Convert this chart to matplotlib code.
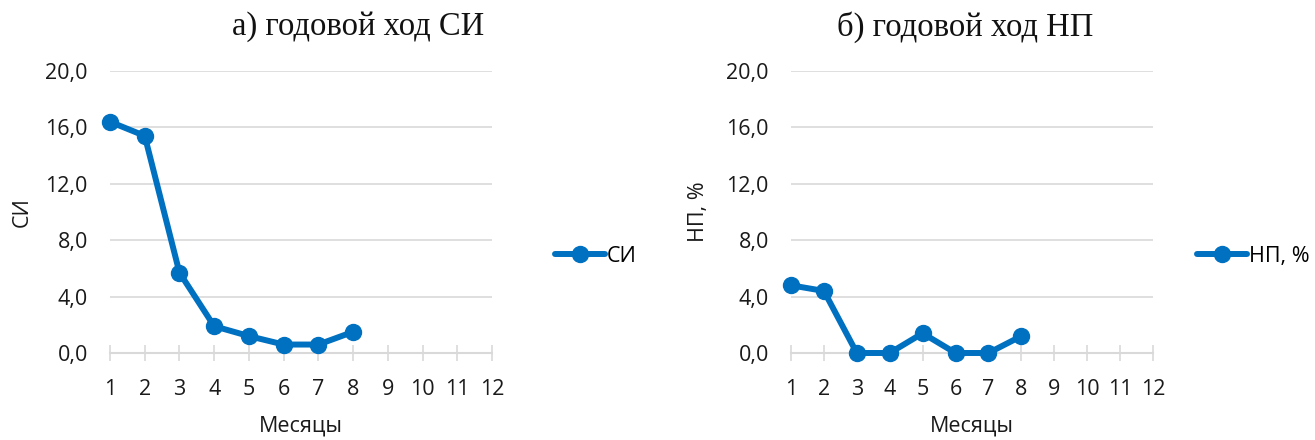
import matplotlib
matplotlib.use("Agg")
import matplotlib.pyplot as plt

months = list(range(1, 13))
si_months = [1, 2, 3, 4, 5, 6, 7, 8]
si_values = [16.4, 15.4, 5.7, 1.9, 1.2, 0.6, 0.6, 1.5]
np_months = [1, 2, 3, 4, 5, 6, 7, 8]
np_values = [4.8, 4.4, 0.0, 0.0, 1.4, 0.0, 0.0, 1.2]
y_ticks = [0, 4, 8, 12, 16, 20]
y_ticklabels = ["0,0", "4,0", "8,0", "12,0", "16,0", "20,0"]

titles = ["а) годовой ход СИ", "б) годовой ход НП"]
ylabels = ["СИ", "НП, %"]
legend_labels = ["СИ", "НП, %"]
xlabel = "Месяцы"

SANS = ["Open Sans", "DejaVu Sans"]
SERIF = ["Liberation Serif", "DejaVu Serif"]
BLUE = "#0070C0"
GRID = "#d9d9d9"

W, H = 1315, 440
fig = plt.figure(figsize=(W / 100, H / 100), dpi=100)

def px_axes(x0, x1, ytop, ybot):
    return fig.add_axes([x0 / W, (H - ybot) / H, (x1 - x0) / W, (ybot - ytop) / H])

ax1 = px_axes(110, 492, 71, 353)
ax2 = px_axes(791, 1153, 71, 353)

configs = [
    (ax1, si_months, si_values, titles[0], ylabels[0], legend_labels[0], 358, -0.23, 555),
    (ax2, np_months, np_values, titles[1], ylabels[1], legend_labels[1], 965, -0.255, 1197),
]

for ax, xs, ys, title, ylab, leg, tx, ylx, legx in configs:
    ax.plot(xs, ys, color=BLUE, lw=4.3, marker="o", markersize=11.5,
            clip_on=False, zorder=5, label=leg, solid_capstyle="round")
    ax.set_xlim(1, 12)
    ax.set_ylim(0, 20)
    ax.set_xticks(months)
    ax.set_xticklabels([str(m) for m in months], family=SANS, fontsize=15.5, color="#1a1a1a")
    ax.set_yticks(y_ticks)
    ax.set_yticklabels(y_ticklabels, family=SANS, fontsize=15.5, color="#1a1a1a")
    ax.grid(axis="y", color=GRID, lw=1.2)
    ax.set_axisbelow(True)
    for s in ["top", "right", "left"]:
        ax.spines[s].set_visible(False)
    ax.spines["bottom"].set_color(GRID)
    ax.spines["bottom"].set_linewidth(1.5)
    ax.tick_params(axis="x", direction="inout", length=12, width=1.2, color=GRID, pad=13)
    ax.tick_params(axis="y", length=0, pad=16)
    ax.set_ylabel(ylab, family=SANS, fontsize=15.5, color="#1a1a1a")
    ax.yaxis.set_label_coords(ylx, 0.5)
    ax.yaxis.label.set_va("center")
    ax.set_xlabel(xlabel, family=SANS, fontsize=15.5, color="#1a1a1a")
    ax.xaxis.set_label_coords(0.5, -0.259)
    ax.xaxis.label.set_va("center")
    fig.text(tx / W, (H - 27) / H, title, family=SERIF, fontsize=23.5,
             ha="center", va="center", color="#111111")
    lg = ax.legend(loc="center left", bbox_to_anchor=(legx / W, (H - 256) / H),
                   bbox_transform=fig.transFigure, frameon=False, borderpad=0,
                   borderaxespad=0, handlelength=2.3, handletextpad=0.1,
                   prop={"family": SANS, "size": 15.5})

fig.savefig("out.png", dpi=100)
